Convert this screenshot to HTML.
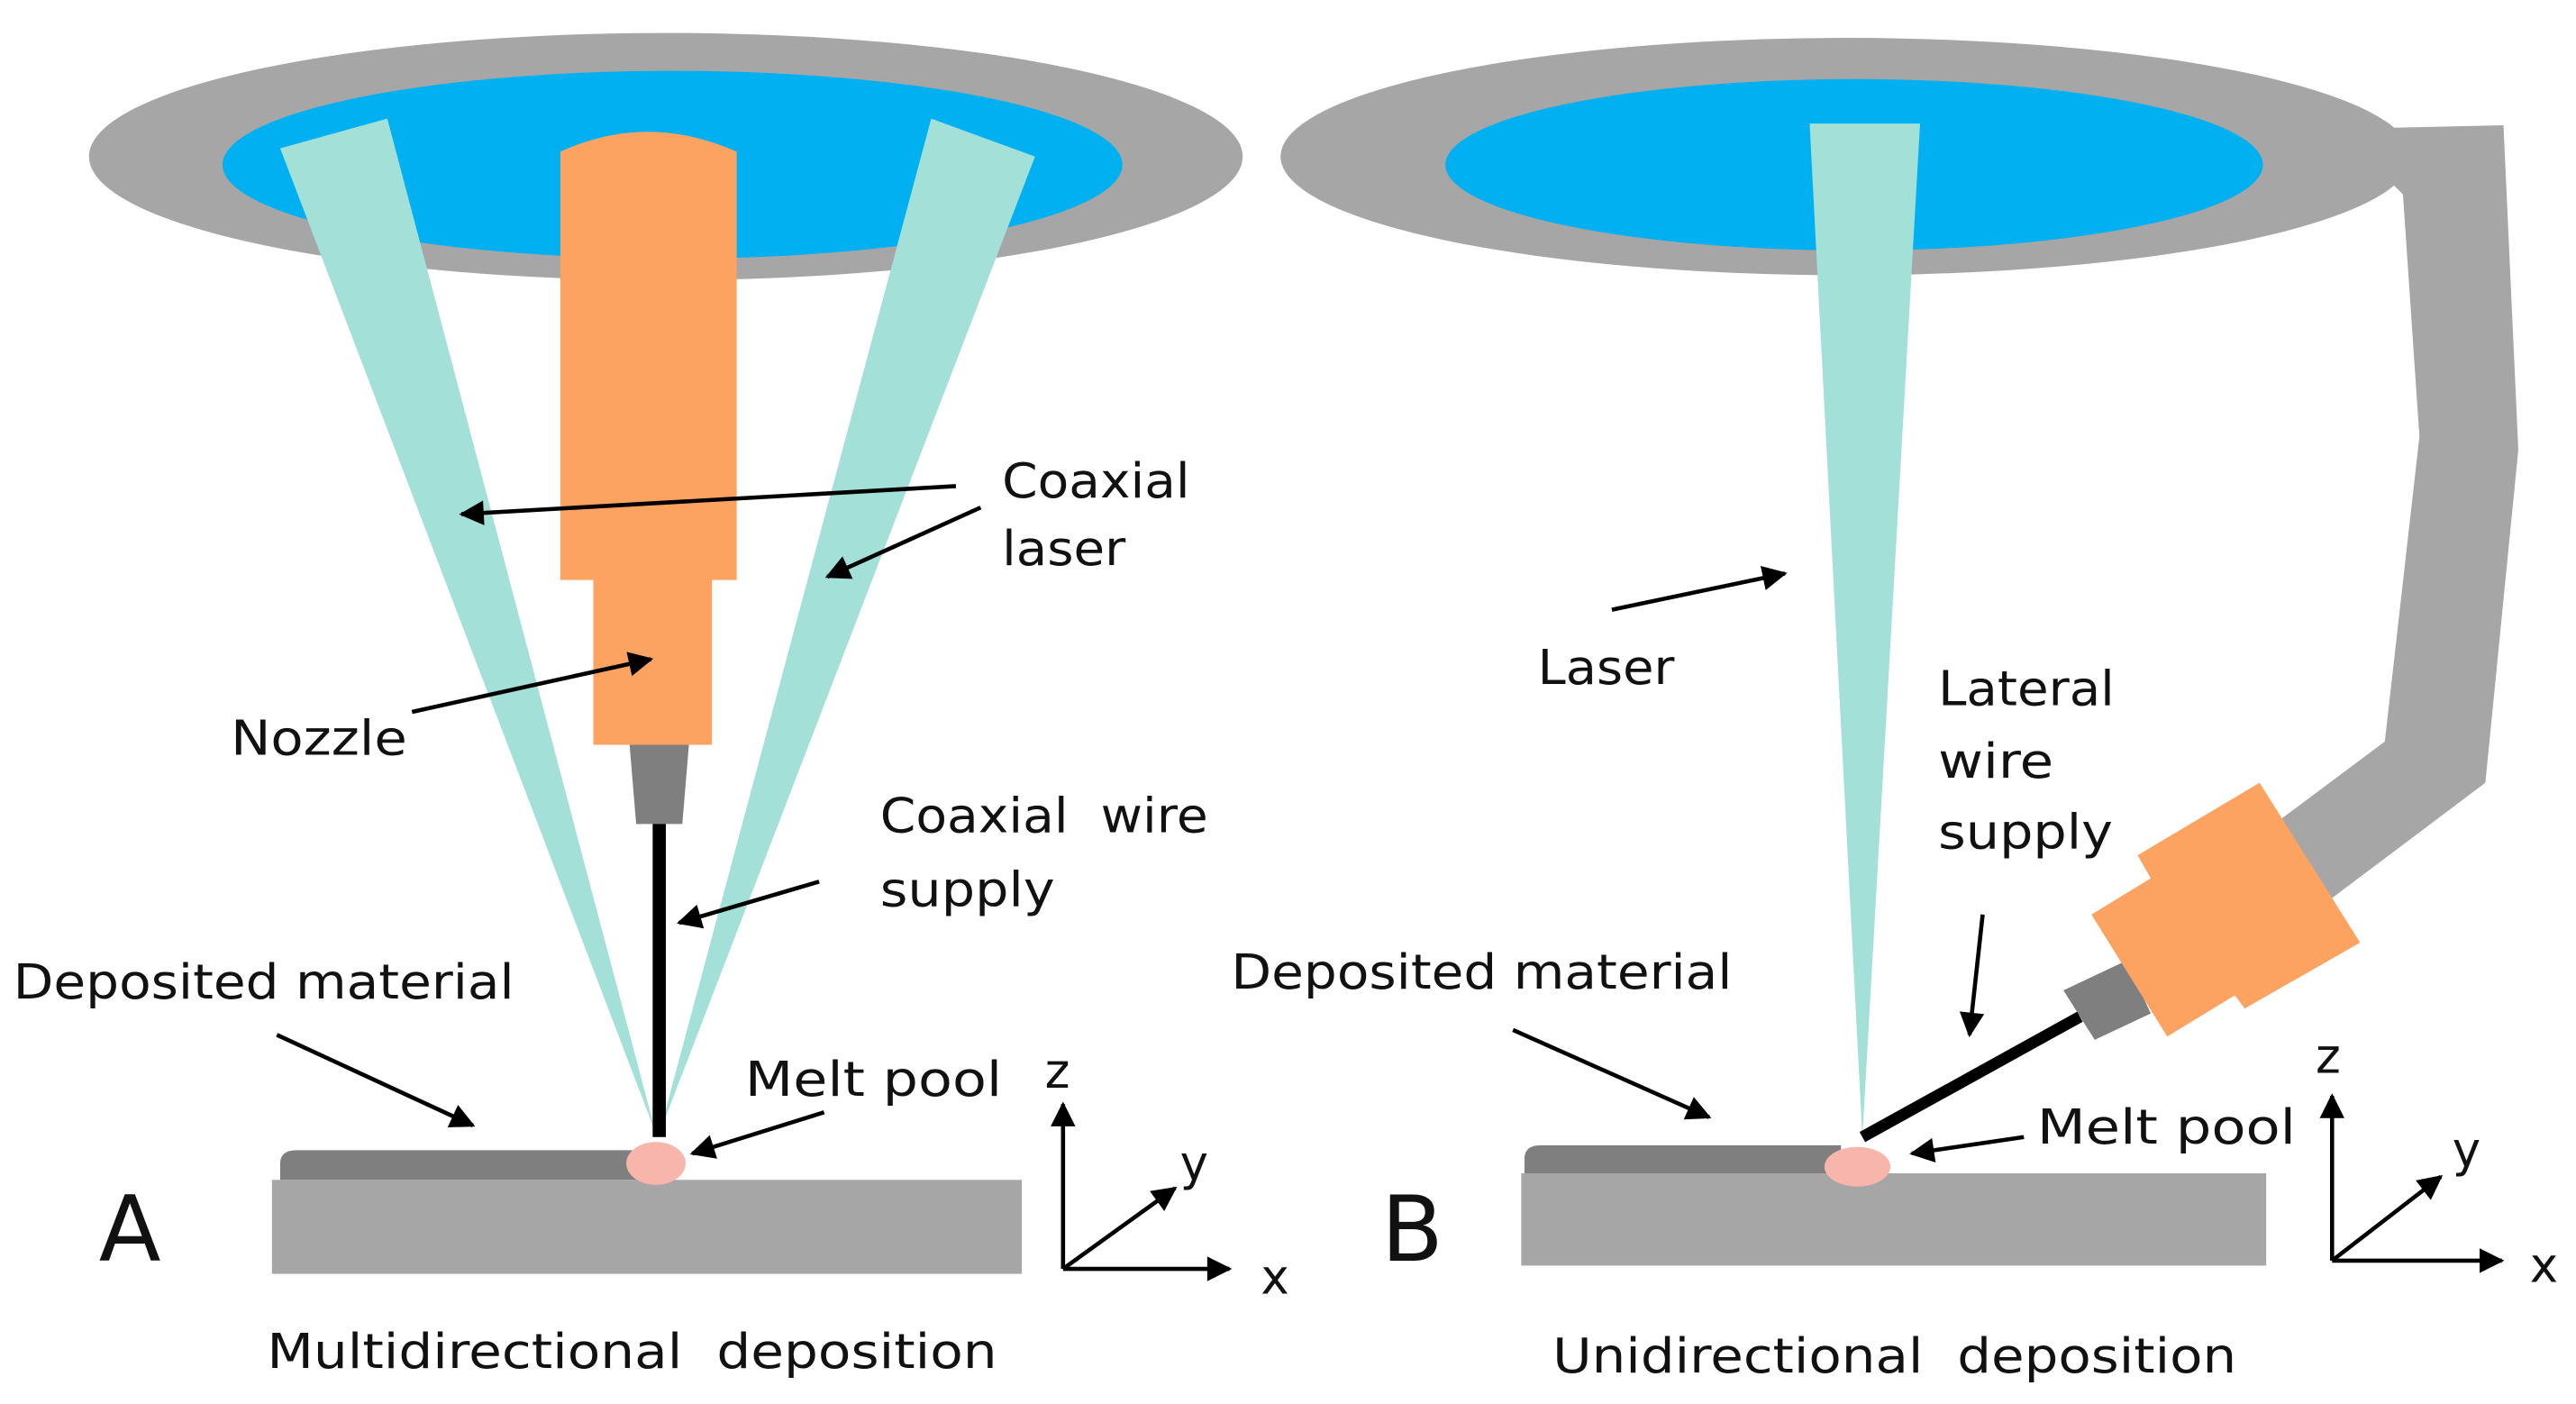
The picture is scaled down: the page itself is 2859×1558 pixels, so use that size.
<!DOCTYPE html>
<html><head><meta charset="utf-8"><style>
html,body{margin:0;padding:0;background:#fff;}
svg{display:block;}
text{font-family:"DejaVu Sans","Liberation Sans",sans-serif;fill:#111;font-size:29px;}
</style></head><body>
<svg width="2859" height="1558" viewBox="0 0 1563 852" preserveAspectRatio="none" xmlns="http://www.w3.org/2000/svg">
<defs>
<marker id="ah" viewBox="0 0 10 10" refX="9" refY="5" markerWidth="7" markerHeight="6" markerUnits="strokeWidth" orient="auto">
<path d="M0,0 L10,5 L0,10 z" fill="#000"/></marker>
</defs>
<!-- Left -->
<ellipse cx="404" cy="95" rx="350" ry="75" fill="#a6a6a6"/>
<ellipse cx="408" cy="100" rx="273" ry="57" fill="#00b0f0"/>
<polygon points="170,90 235,72 398,688" fill="#a2e0d8"/>
<polygon points="565,72 628,95 400,688" fill="#a2e0d8"/>
<path d="M340,92 Q393,68 447,92 L447,352 L432,352 L432,452 L360,452 L360,352 L340,352 Z" fill="#fca361"/>
<polygon points="382,452 418,452 414,500 386,500" fill="#7f7f7f"/>
<rect x="396" y="500" width="8" height="190" fill="#000"/>
<rect x="165" y="716" width="455" height="57" fill="#a6a6a6"/>
<path d="M170,716 L170,706 Q170,698 180,698 L392,698 L392,716 Z" fill="#7f7f7f"/>
<ellipse cx="398" cy="706" rx="18" ry="13" fill="#f7b5ab"/>
<!-- Right -->
<polygon points="1430,78 1519,76 1528,273 1508,475 1395,560 1360,515 1447,450 1468,265 1458,118 1440,100" fill="#a6a6a6"/>
<ellipse cx="1120" cy="95" rx="343" ry="72" fill="#a6a6a6"/>
<ellipse cx="1125" cy="100" rx="248" ry="52" fill="#00b0f0"/>
<polygon points="1098,75 1165,75 1130,690" fill="#a2e0d8"/>
<polygon points="1252,601 1290,583 1305,615 1271,631" fill="#7f7f7f"/>
<polygon points="1297,519 1371,475 1432,572 1362,612 1356,604 1315,629 1269,555 1305,533" fill="#fca361"/>
<line x1="1130" y1="690" x2="1262" y2="617" stroke="#000" stroke-width="7"/>
<rect x="923" y="712" width="452" height="56" fill="#a6a6a6"/>
<path d="M925,712 L925,703 Q925,695 935,695 L1117,695 L1117,712 Z" fill="#7f7f7f"/>
<ellipse cx="1127" cy="708" rx="20" ry="12" fill="#f7b5ab"/>
<!-- arrows -->
<g stroke="#000" stroke-width="2.5" fill="none" marker-end="url(#ah)">
<line x1="580" y1="295" x2="280" y2="312"/>
<line x1="595" y1="308" x2="502" y2="350"/>
<line x1="250" y1="432" x2="395" y2="400"/>
<line x1="497" y1="535" x2="412" y2="560"/>
<line x1="168" y1="628" x2="287" y2="683"/>
<line x1="500" y1="675" x2="420" y2="700"/>
<line x1="978" y1="370" x2="1083" y2="348"/>
<line x1="1203" y1="555" x2="1195" y2="628"/>
<line x1="918" y1="625" x2="1037" y2="678"/>
<line x1="1228" y1="690" x2="1160" y2="700"/>
<line x1="645" y1="770" x2="645" y2="670"/>
<line x1="645" y1="770" x2="746" y2="770"/>
<line x1="645" y1="770" x2="713" y2="721"/>
<line x1="1415" y1="765" x2="1415" y2="665"/>
<line x1="1415" y1="765" x2="1518" y2="765"/>
<line x1="1415" y1="765" x2="1481" y2="714"/>
</g>
<!-- text -->
<g lengthAdjust="spacingAndGlyphs">
<text x="608" y="302" textLength="114" lengthAdjust="spacingAndGlyphs">Coaxial</text>
<text x="608" y="343" textLength="75" lengthAdjust="spacingAndGlyphs">laser</text>
<text x="140" y="458" textLength="107" lengthAdjust="spacingAndGlyphs">Nozzle</text>
<text x="534" y="505" textLength="199" lengthAdjust="spacingAndGlyphs" xml:space="preserve">Coaxial  wire</text>
<text x="534" y="550" textLength="106" lengthAdjust="spacingAndGlyphs">supply</text>
<text x="8" y="606" textLength="304" lengthAdjust="spacingAndGlyphs">Deposited material</text>
<text x="452" y="665" textLength="156" lengthAdjust="spacingAndGlyphs">Melt pool</text>
<text x="634" y="660">z</text>
<text x="716" y="716">y</text>
<text x="765" y="785">x</text>
<text x="60" y="765" style="font-size:55px">A</text>
<text x="162" y="830" textLength="443" lengthAdjust="spacingAndGlyphs" xml:space="preserve">Multidirectional  deposition</text>
<text x="933" y="415" textLength="83" lengthAdjust="spacingAndGlyphs">Laser</text>
<text x="1176" y="428" textLength="107" lengthAdjust="spacingAndGlyphs">Lateral</text>
<text x="1176" y="472" textLength="70" lengthAdjust="spacingAndGlyphs">wire</text>
<text x="1176" y="515" textLength="106" lengthAdjust="spacingAndGlyphs">supply</text>
<text x="747" y="600" textLength="304" lengthAdjust="spacingAndGlyphs">Deposited material</text>
<text x="1236" y="694" textLength="157" lengthAdjust="spacingAndGlyphs">Melt pool</text>
<text x="1405" y="651">z</text>
<text x="1488" y="708">y</text>
<text x="1535" y="778">x</text>
<text x="838" y="765" style="font-size:55px">B</text>
<text x="942" y="833" textLength="415" lengthAdjust="spacingAndGlyphs" xml:space="preserve">Unidirectional  deposition</text>
</g>
</svg>
</body></html>
